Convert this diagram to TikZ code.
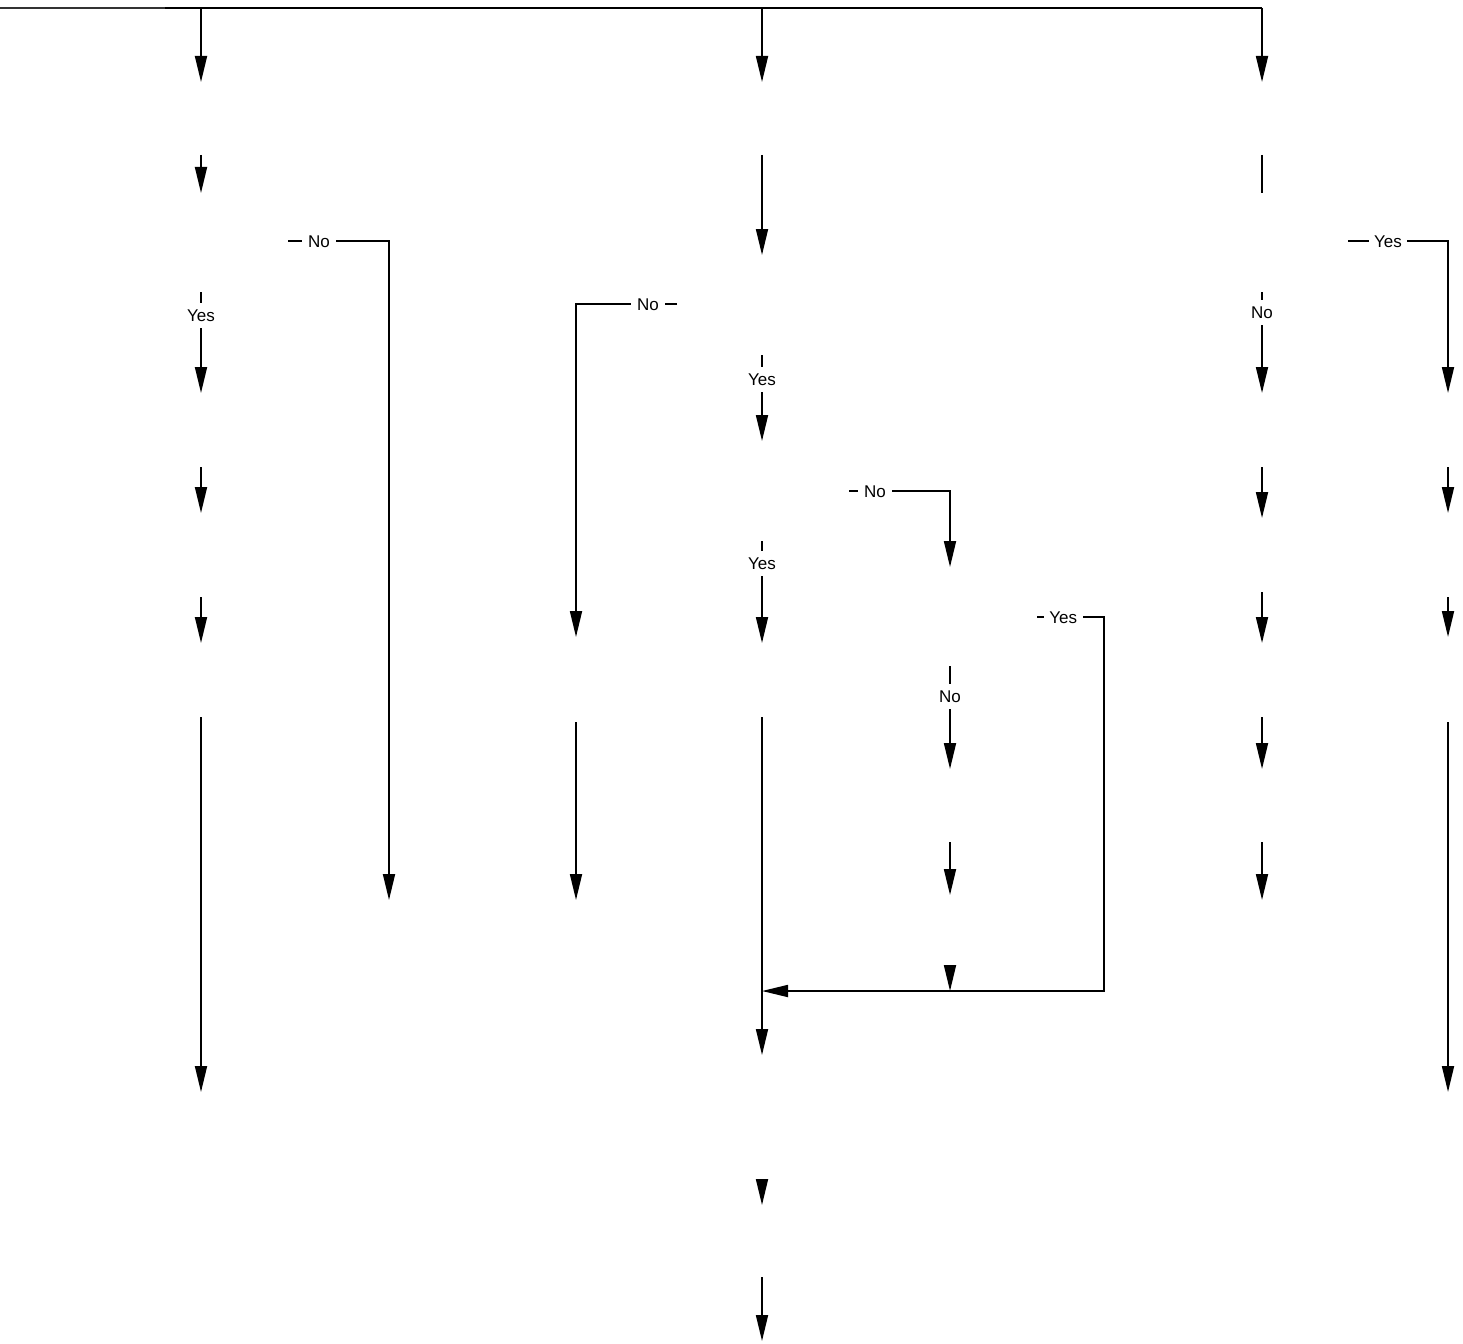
\documentclass[tikz,border=0pt]{standalone}
\usepackage{fontspec}
\setmainfont{Liberation Sans}
\usetikzlibrary{arrows.meta}
\begin{document}
\begin{tikzpicture}[x=1pt,y=-1pt,
  conn/.style={line width=1.8pt, draw=black},
  arr/.style={conn, -{Triangle[length=26pt,width=12pt]}},
  lbl/.style={fill=white, inner xsep=6.5pt, inner ysep=6.5pt, text height=12pt, text depth=0pt, font=\fontsize{17}{20}\selectfont}
]
\useasboundingbox (0,0) rectangle (1463,1343);

% top bus
\coordinate (in) at (0,8);
\coordinate (inj) at (165,8);
\coordinate (j1) at (201,8);
\coordinate (j3) at (762,8);
\coordinate (j5) at (1262,8);

% column 1
\coordinate (a1) at (201,82);
\coordinate (b1s) at (201,155); \coordinate (b1e) at (201,193);
\coordinate (c1s) at (201,292); \coordinate (c1e) at (201,393);
\coordinate (d1s) at (201,467); \coordinate (d1e) at (201,513);
\coordinate (e1s) at (201,597); \coordinate (e1e) at (201,643);
\coordinate (f1s) at (201,717); \coordinate (f1e) at (201,1092);
\coordinate (n1s) at (288,241); \coordinate (n1k) at (389,241); \coordinate (n1e) at (389,900);

% column 2
\coordinate (n2s) at (677,304); \coordinate (n2k) at (576,304); \coordinate (n2e) at (576,637);
\coordinate (g2s) at (576,722); \coordinate (g2e) at (576,900);

% column 3
\coordinate (a3) at (762,82);
\coordinate (b3s) at (762,155); \coordinate (b3e) at (762,255);
\coordinate (c3s) at (762,355); \coordinate (c3e) at (762,441);
\coordinate (d3s) at (762,541); \coordinate (d3e) at (762,643);
\coordinate (f3s) at (762,717); \coordinate (f3e) at (762,1055);
\coordinate (h3s) at (762,1180); \coordinate (h3e) at (762,1205);
\coordinate (i3s) at (762,1277); \coordinate (i3e) at (762,1341);

% column 4
\coordinate (n4s) at (849,491); \coordinate (n4k) at (950,491); \coordinate (n4e) at (950,567);
\coordinate (c4s) at (950,666); \coordinate (c4e) at (950,769);
\coordinate (d4s) at (950,842); \coordinate (d4e) at (950,895);
\coordinate (e4s) at (950,966); \coordinate (e4e) at (950,991);
\coordinate (y4s) at (1037,617); \coordinate (y4k) at (1104,617);
\coordinate (y4m) at (1104,991); \coordinate (y4e) at (762,991);

% column 5
\coordinate (a5) at (1262,82);
\coordinate (b5s) at (1262,155); \coordinate (b5e) at (1262,193);
\coordinate (c5s) at (1262,292); \coordinate (c5e) at (1262,393);
\coordinate (d5s) at (1262,467); \coordinate (d5e) at (1262,518);
\coordinate (e5s) at (1262,592); \coordinate (e5e) at (1262,643);
\coordinate (f5s) at (1262,717); \coordinate (f5e) at (1262,769);
\coordinate (g5s) at (1262,842); \coordinate (g5e) at (1262,900);

% column 6
\coordinate (y6s) at (1348,241); \coordinate (y6k) at (1448,241); \coordinate (y6e) at (1448,393);
\coordinate (d6s) at (1448,467); \coordinate (d6e) at (1448,513);
\coordinate (e6s) at (1448,597); \coordinate (e6e) at (1448,637);
\coordinate (f6s) at (1448,722); \coordinate (f6e) at (1448,1092);

% bus lines
\draw[line width=2.4pt, draw=black!80] (in) -- (inj);
\draw[conn] (inj) -- (j5);
\draw[arr] (j1) -- (a1);
\draw[arr] (j3) -- (a3);
\draw[arr] (j5) -- (a5);

% column 1
\draw[arr] (b1s) -- (b1e);
\draw[arr] (c1s) -- node[lbl, pos=0.228] {Yes} (c1e);
\draw[arr] (d1s) -- (d1e);
\draw[arr] (e1s) -- (e1e);
\draw[arr] (f1s) -- (f1e);
\draw[arr] (n1s) -- node[lbl, pos=0.307] {No} (n1k) -- (n1e);

% column 2
\draw[arr] (n2s) -- node[lbl, pos=0.287] {No} (n2k) -- (n2e);
\draw[arr] (g2s) -- (g2e);

% column 3
\draw[arr] (b3s) -- (b3e);
\draw[arr] (c3s) -- node[lbl, pos=0.29] {Yes} (c3e);
\draw[arr] (d3s) -- node[lbl, pos=0.216] {Yes} (d3e);
\draw[arr] (f3s) -- (f3e);
\draw[arr] (h3s) -- (h3e);
\draw[arr] (i3s) -- (i3e);

% column 4
\draw[arr] (n4s) -- node[lbl, pos=0.257] {No} (n4k) -- (n4e);
\draw[arr] (c4s) -- node[lbl, pos=0.30] {No} (c4e);
\draw[arr] (d4s) -- (d4e);
\draw[arr] (y4s) -- node[lbl, pos=0.39, inner xsep=5.5pt] {Yes} (y4k) -- (y4m) -- (y4e);
\draw[arr] (e4s) -- (e4e);

% column 5
\draw[conn] (b5s) -- (b5e);
\draw[arr] (c5s) -- node[lbl, pos=0.2] {No} (c5e);
\draw[arr] (d5s) -- (d5e);
\draw[arr] (e5s) -- (e5e);
\draw[arr] (f5s) -- (f5e);
\draw[arr] (g5s) -- (g5e);

% column 6
\draw[arr] (y6s) -- node[lbl, pos=0.40, inner xsep=5.5pt] {Yes} (y6k) -- (y6e);
\draw[arr] (d6s) -- (d6e);
\draw[arr] (e6s) -- (e6e);
\draw[arr] (f6s) -- (f6e);
\end{tikzpicture}
\end{document}
